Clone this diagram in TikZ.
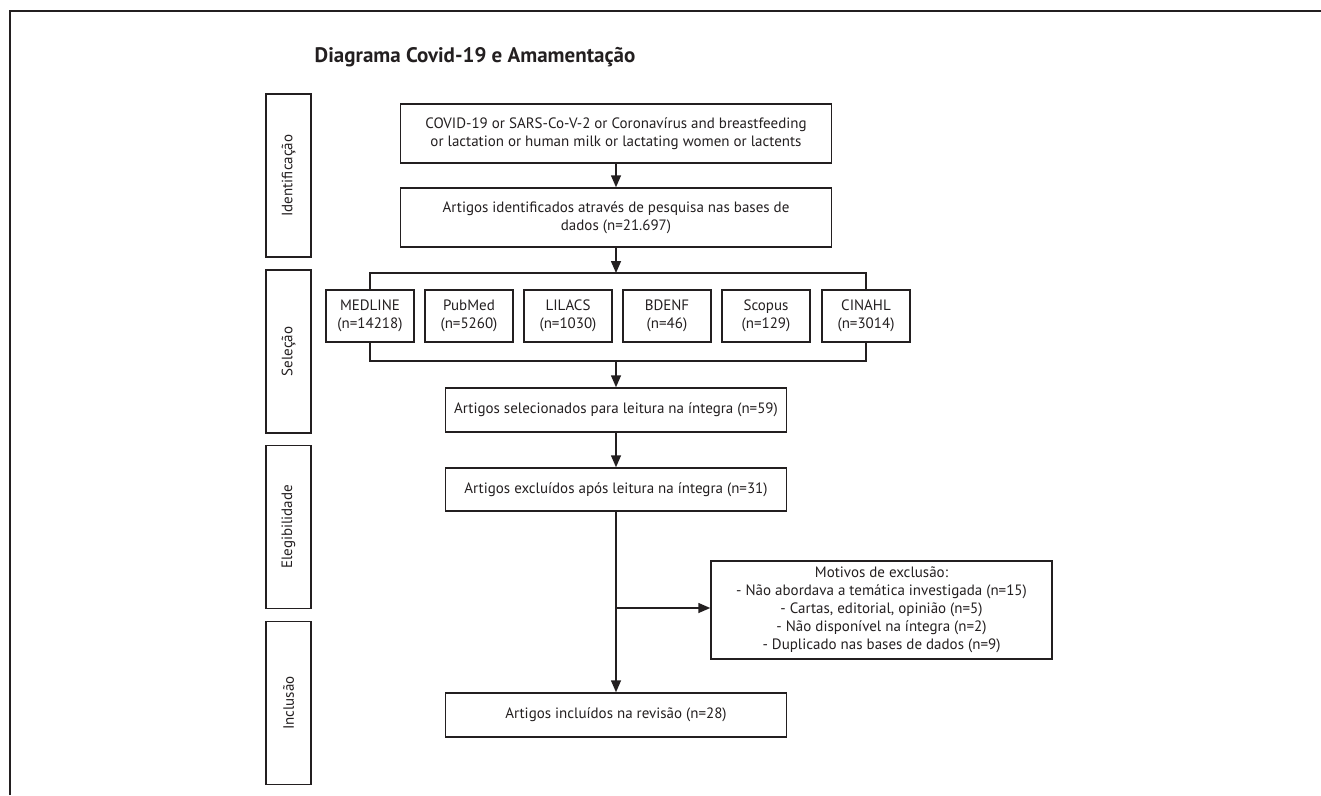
\documentclass[tikz,border=0pt]{standalone}
\usepackage{fontspec}
\setmainfont{PT Sans}
\usetikzlibrary{arrows.meta}
\definecolor{ink}{HTML}{231F20}
\begin{document}
\begin{tikzpicture}[x=1pt,y=-1pt,
  txt/.style={text=ink, font=\fontsize{15}{18}\selectfont},
  box/.style={txt, draw=ink, line width=1.5pt, inner sep=0pt, align=center},
  side/.style={box, rotate=90, minimum width=163pt, minimum height=45pt},
  db/.style={box, minimum width=88pt, minimum height=52pt},
  ln/.style={draw=ink, line width=1.5pt},
  arr/.style={ln, -{Triangle[length=12pt,width=10pt]}}]
\useasboundingbox (0,0) rectangle (1321,795);
% frame
\draw[ln] (10,795) -- (10,11) -- (1321,11);
% title
\node[text=ink, font=\bfseries\fontsize{21}{24}\selectfont] (title) at (475,57) {Diagrama Covid-19 e Amamentação};
% side labels
\node[side] (sid) at (288.5,175.5) {Identificação};
\node[side] (sse) at (288.5,351.5) {Seleção};
\node[side] (sel) at (288.5,527) {Elegibilidade};
\node[side] (sin) at (288.5,703) {Inclusão};
% main boxes
\node[box, minimum width=431pt, minimum height=59pt] (q) at (616,133.5) {COVID-19 or SARS-Co-V-2 or Coronavírus and breastfeeding\\or lactation or human milk or lactating women or lactents};
\node[box, minimum width=431pt, minimum height=59pt] (ident) at (616,217.5) {Artigos identificados através de pesquisa nas bases de\\dados (n=21.697)};
\node[db] (med) at (370,316) {MEDLINE\\(n=14218)};
\node[db] (pub) at (469,316) {PubMed\\(n=5260)};
\node[db] (lil) at (568,316) {LILACS\\(n=1030)};
\node[db] (bde) at (667,316) {BDENF\\(n=46)};
\node[db] (sco) at (766,316) {Scopus\\(n=129)};
\node[db] (cin) at (866,316) {CINAHL\\(n=3014)};
\node[box, minimum width=341pt, minimum height=44pt] (selb) at (616,410) {Artigos selecionados para leitura na íntegra (n=59)};
\node[box, minimum width=341pt, minimum height=43pt] (exc) at (616,489.5) {Artigos excluídos após leitura na íntegra (n=31)};
\node[box, minimum width=341pt, minimum height=98pt] (mot) at (881.5,610) {Motivos de exclusão:\\- Não abordava a temática investigada (n=15)\\- Cartas, editorial, opinião (n=5)\\- Não disponível na íntegra (n=2)\\- Duplicado nas bases de dados (n=9)};
\node[box, minimum width=341pt, minimum height=44pt] (inc) at (616,715) {Artigos incluídos na revisão (n=28)};
% connectors
\coordinate (bt) at (616,273);
\coordinate (bb) at (616,361);
\coordinate (br) at (616,608);
\draw[arr] (q) -- (ident);
\draw[arr] (ident) -- (bt);
\draw[ln] (med.north) |- (bt) -| (cin.north);
\draw[ln] (med.south) |- (bb) -| (cin.south);
\draw[arr] (bb) -- (selb);
\draw[arr] (selb) -- (exc);
\draw[arr] (exc) -- (inc);
\draw[arr] (br) -- (br -| mot.west);
\end{tikzpicture}
\end{document}
